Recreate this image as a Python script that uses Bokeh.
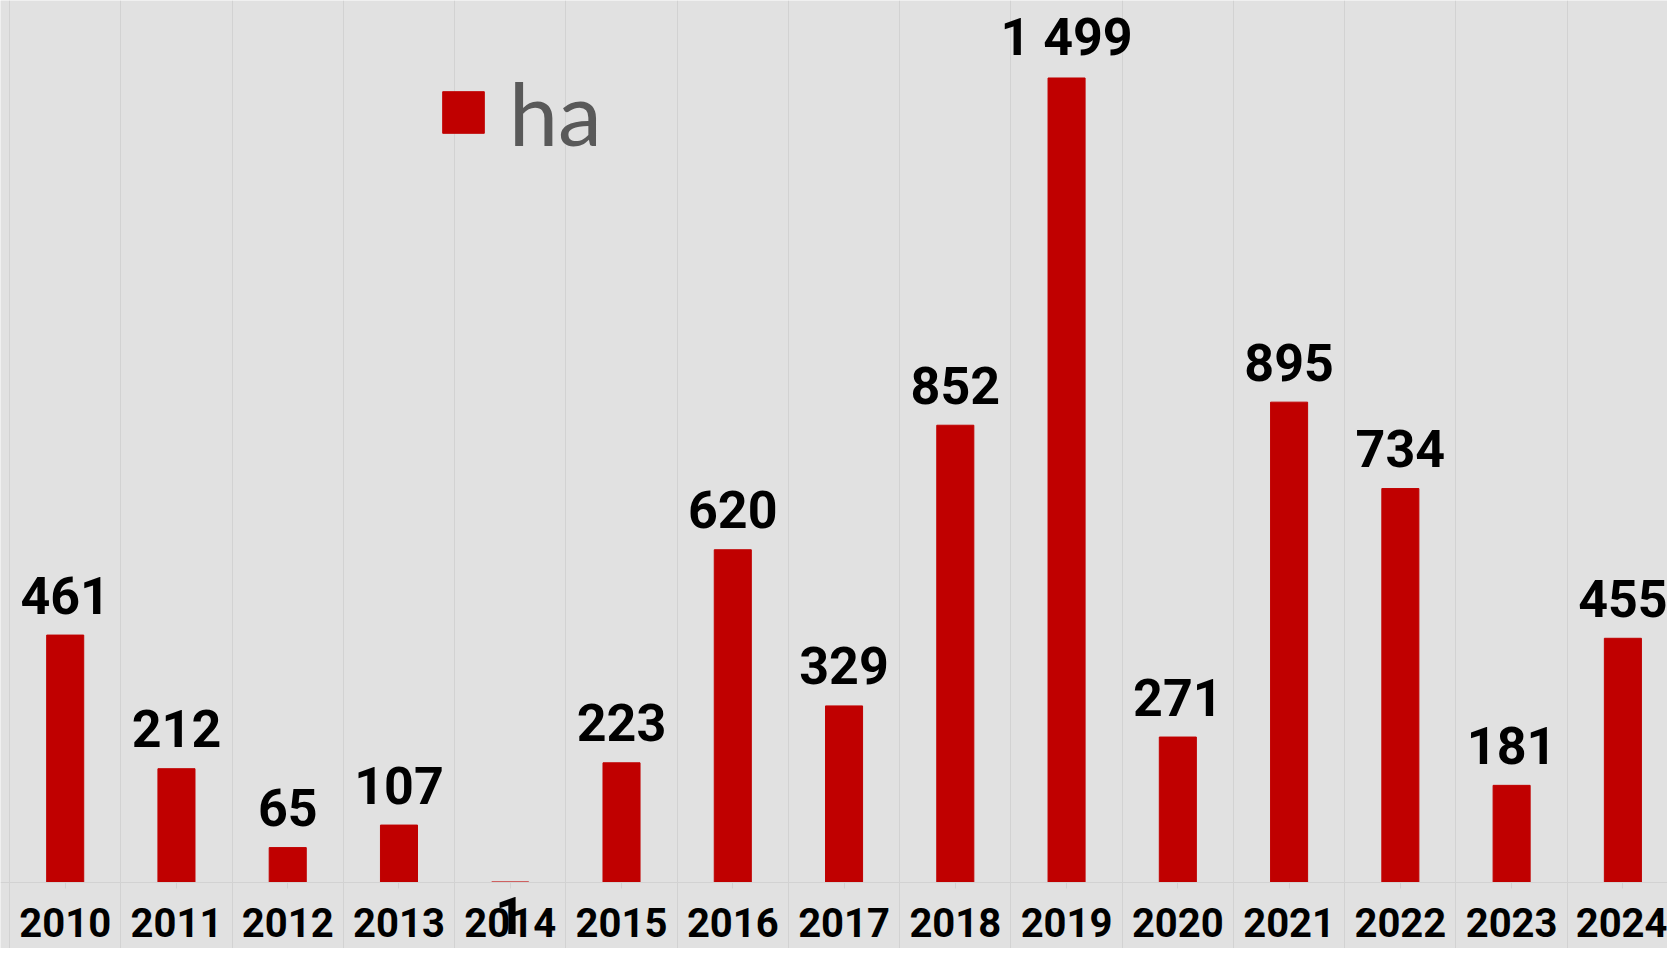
from bokeh.plotting import figure
from bokeh.models import ColumnDataSource, FixedTicker, Legend, LegendItem
from bokeh.core.properties import value
from bokeh.embed import file_html
from bokeh.resources import INLINE

# ---- data ----
years = ["2010", "2011", "2012", "2013", "2014", "2015", "2016", "2017",
         "2018", "2019", "2020", "2021", "2022", "2023", "2024"]
hectares = [461, 212, 65, 107, 1, 223, 620, 329, 852, 1499, 271, 895, 734, 181, 455]
series_name = "ha"

BG = "#e1e1e1"
GRID = "#d2d2d2"
BAR = "#c00000"

x = list(range(len(years)))
labels = [f"{v:,}".replace(",", " ") for v in hectares]
# tiny values get their label pushed below the axis (as in the original)
offsets = [-40 if v > 10 else 34 for v in hectares]

src = ColumnDataSource(dict(x=x, value=hectares, label=labels, yoff=offsets))

p = figure(width=1667, height=948, output_backend="svg", toolbar_location=None,
           x_range=(-0.5815, 14.401), y_range=(-123.0, 1643.4),
           min_border=0, background_fill_color=BG, border_fill_color=BG,
           outline_line_color=None, y_axis_location=None)

bars = p.vbar(x="x", top="value", width=0.333, source=src,
              fill_color=BAR, line_color=BAR)

p.text(x="x", y="value", text="label", source=src, y_offset="yoff",
       text_align="center", text_baseline="alphabetic",
       text_font=value("Roboto"), text_font_style="bold",
       text_font_size="52px", text_color="black")

# x axis drawn at y = 0 inside the frame
ax = p.xaxis[0]
ax.fixed_location = 0
ax.ticker = FixedTicker(ticks=x)
ax.major_label_overrides = {i: years[i] for i in x}
ax.major_label_text_font = "Roboto"
ax.major_label_text_font_style = "bold"
ax.major_label_text_font_size = "40px"
ax.major_label_text_color = "black"
ax.major_label_standoff = 20
ax.axis_line_color = GRID
ax.major_tick_line_color = GRID
ax.major_tick_out = 6
ax.major_tick_in = 0
ax.minor_tick_line_color = None

p.ygrid.grid_line_color = None
p.xgrid.ticker = FixedTicker(ticks=[i - 0.5 for i in range(len(years) + 1)])
p.xgrid.grid_line_color = GRID
p.xgrid.grid_line_width = 1

legend = Legend(items=[LegendItem(label=series_name, renderers=[bars])],
                location=(437, 783), orientation="horizontal",
                background_fill_alpha=0, border_line_color=None,
                padding=0, margin=0, glyph_width=52, glyph_height=52,
                label_standoff=20, label_text_font="Lato",
                label_text_font_size="88px", label_text_color="#595959")
p.add_layout(legend)

open("out.html", "w").write(file_html(p, INLINE))
